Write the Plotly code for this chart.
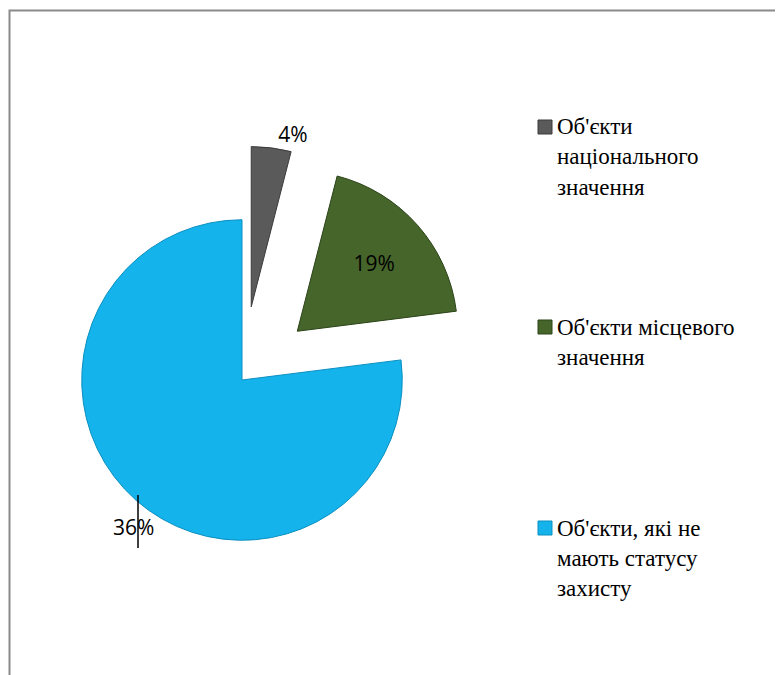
import plotly.graph_objects as go

categories = ["Об'єкти національного значення",
              "Об'єкти місцевого значення",
              "Об'єкти, які не мають статусу захисту"]
legend_lines = [["Об'єкти", "національного", "значення"],
                ["Об'єкти місцевого", "значення"],
                ["Об'єкти, які не", "мають статусу", "захисту"]]
values = [4, 19, 77]
text_labels = ["4%", "19%", "36%"]
colors = ["#5a5a5a", "#46652b", "#14b3ec"]
edge_colors = ["#3a3a3a", "#2c4318", "#0b8fc0"]
pulls = [0.46, 0.46, 0]

W, H = 783, 675
OFF = 8  # page body offset
SERIF = "Liberation Serif"
SANS = "Open Sans"

fig = go.Figure()
fig.add_trace(go.Pie(
    labels=categories, values=values,
    text=[text_labels[0], text_labels[1], ""],
    textinfo="text", sort=False, direction="clockwise", rotation=0,
    pull=pulls, automargin=False,
    marker=dict(colors=colors, line=dict(color=edge_colors, width=1)),
    textposition=["outside", "inside", "none"],
    insidetextorientation="horizontal",
    textfont=dict(family=SANS, size=21, color="black"),
    domain=dict(x=[0, 468 / W], y=[1 - 372 / H - 0.36, 1 - 372 / H + 0.36]),
    showlegend=False, hoverinfo="label+percent",
))

first_line_centers = [127, 327, 528]
line_gap = 30
sq_tops = [120, 320, 521]
shapes = [
    dict(type="rect", xref="paper", yref="paper",
         x0=(9.5 - OFF) / W, x1=1.2, y0=-0.2, y1=1 - (10.5 - OFF) / H,
         line=dict(color="#8a8a8a", width=2), fillcolor="rgba(0,0,0,0)", layer="below"),
    dict(type="line", xref="paper", yref="paper",
         x0=(138 - OFF) / W, x1=(138 - OFF) / W, y0=1 - (495 - OFF) / H, y1=1 - (548 - OFF) / H,
         line=dict(color="black", width=1.5)),
]
annotations = [dict(xref="paper", yref="paper", x=(133 - OFF) / W, y=1 - (527 - OFF) / H,
                    xanchor="center", yanchor="middle", showarrow=False, text=text_labels[2],
                    font=dict(family=SANS, size=21, color="black"))]
for i in range(3):
    shapes.append(dict(type="rect", xref="paper", yref="paper",
                       x0=(538 - OFF) / W, x1=(552 - OFF) / W,
                       y0=1 - (sq_tops[i] + 14 - OFF) / H, y1=1 - (sq_tops[i] - OFF) / H,
                       fillcolor=colors[i], line=dict(color=edge_colors[i], width=1)))
    for j, line in enumerate(legend_lines[i]):
        annotations.append(dict(xref="paper", yref="paper", x=(555 - OFF) / W,
                                y=1 - (first_line_centers[i] + j * line_gap - OFF) / H,
                                xanchor="left", yanchor="middle", align="left", showarrow=False,
                                text=line,
                                font=dict(family=SERIF, size=23, color="black")))

fig.update_layout(
    width=W, height=H, margin=dict(l=0, r=0, t=0, b=0, autoexpand=False),
    paper_bgcolor="white", plot_bgcolor="white",
    font=dict(family=SERIF),
    shapes=shapes, annotations=annotations,
)
fig.write_html("out.html")
